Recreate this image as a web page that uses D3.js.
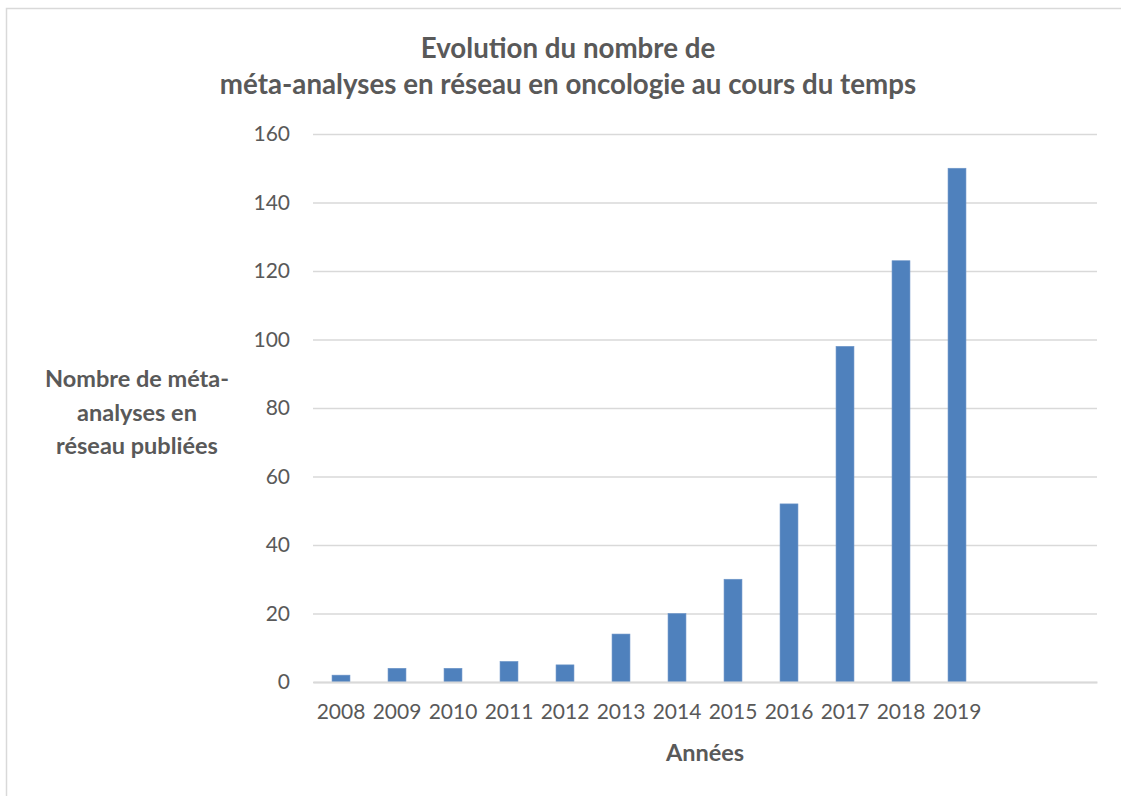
<!DOCTYPE html>
<html><head><meta charset="utf-8">
<script src="https://cdn.jsdelivr.net/npm/d3@7"></script>
<style>
html,body{margin:0;background:#fff;overflow:hidden;}
svg{display:block;}
text{font-family:Lato,"Open Sans",sans-serif;}
</style></head>
<body><svg id="c" width="1121" height="796"></svg>
<script>
const categories = ["2008","2009","2010","2011","2012","2013","2014","2015","2016","2017","2018","2019","",""];
const values = [2,4,4,6,5,14,20,30,52,98,123,150,null,null];
const yTicks = [0,20,40,60,80,100,120,140,160];
const titleLines = ["Evolution du nombre de","méta-analyses en réseau en oncologie au cours du temps"];
const yTitleLines = ["Nombre de méta-","analyses en","réseau publiées"];
const xTitle = "Années";

const svg = d3.select("#c");
const W = 1121, H = 796;
const m = {left:313, right:1097, top:134, bottom:682};
const slotKeys = categories.map((c,i)=>i);

// outer frame (top + left edges visible)
svg.append("path").attr("d",`M6.5,${H} V8.5 H${W}`).attr("fill","none")
  .attr("stroke","#d9d9d9").attr("stroke-width",1.5);

const x = d3.scaleBand().domain(slotKeys).range([m.left,m.right]).paddingInner(0.68).paddingOuter(0.34);
const y = d3.scaleLinear().domain([0,160]).range([m.bottom,m.top]);

const tickFont = "21px";
// gridlines
const yAxis = d3.axisLeft(y).tickValues(yTicks).tickSize(-(m.right-m.left)).tickPadding(23);
const gy = svg.append("g").attr("transform",`translate(${m.left},0)`).call(yAxis);
gy.select(".domain").remove();
gy.selectAll(".tick line").attr("stroke","#d9d9d9").attr("stroke-width",1.5);
gy.selectAll(".tick text").attr("fill","#595959").style("font-size",tickFont).style("font-family","Lato,'Open Sans',sans-serif");

// bars
svg.append("g").selectAll("rect").data(values.map((v,i)=>({v,i})).filter(d=>d.v!=null))
  .join("rect")
  .attr("x",d=>x(d.i)).attr("width",x.bandwidth())
  .attr("y",d=>y(d.v)).attr("height",d=>y(0)-y(d.v))
  .attr("fill","#4f81bd").attr("stroke","#6d95c8").attr("stroke-width",0.6);

// x axis
const xAxis = d3.axisBottom(x).tickFormat(i=>categories[i]).tickSize(0).tickPadding(22);
const gx = svg.append("g").attr("transform",`translate(0,${m.bottom})`).call(xAxis);
gx.select(".domain").attr("stroke","#d9d9d9").attr("stroke-width",2);
gx.selectAll(".tick text").attr("fill","#595959").style("font-size",tickFont).style("font-family","Lato,'Open Sans',sans-serif");

// title
svg.append("g").selectAll("text").data(titleLines).join("text")
  .attr("x",568).attr("y",(d,i)=>58+i*36).attr("text-anchor","middle")
  .attr("fill","#595959").style("font-size","27.7px").style("font-weight","bold").text(d=>d);

// y title
svg.append("g").selectAll("text").data(yTitleLines).join("text")
  .attr("x",137).attr("y",(d,i)=>387+i*33.5).attr("text-anchor","middle")
  .attr("fill","#595959").style("font-size","23.5px").style("font-weight","bold").text(d=>d);

// x title
svg.append("text").attr("x",705).attr("y",761).attr("text-anchor","middle")
  .attr("fill","#595959").style("font-size","23.5px").style("font-weight","bold").text(xTitle);
</script></body></html>
